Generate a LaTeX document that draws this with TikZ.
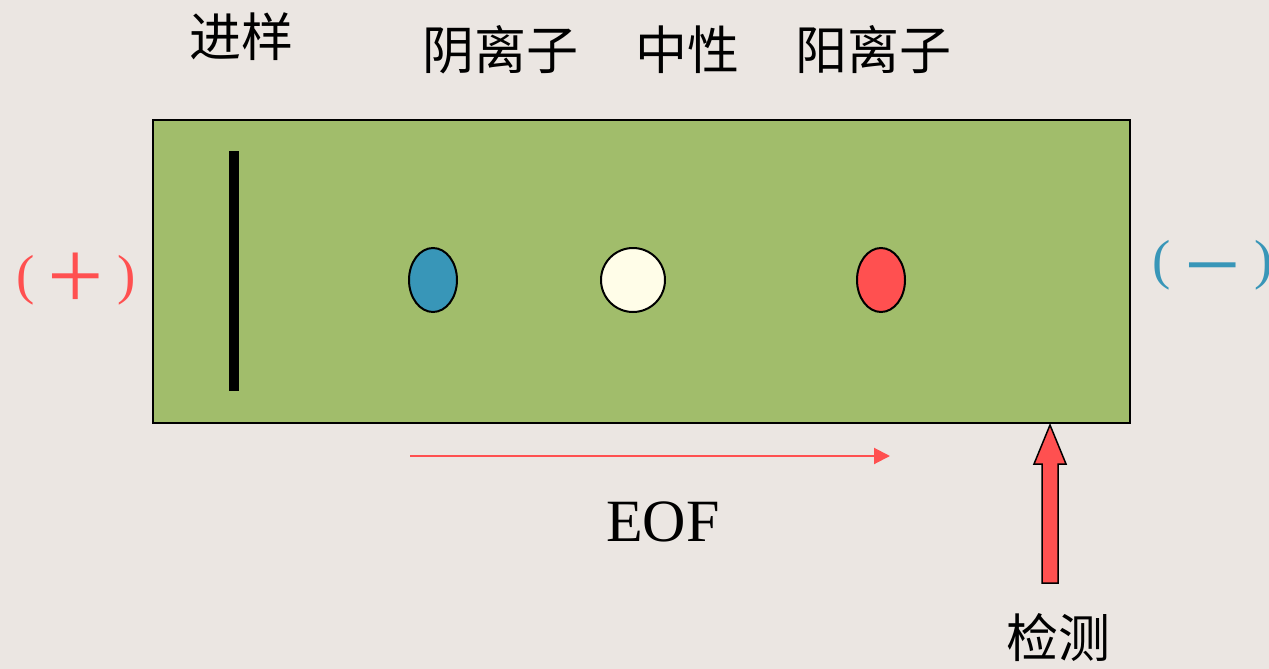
\documentclass[tikz,border=0pt]{standalone}
\usepackage{fontspec}
\usetikzlibrary{shapes.geometric,arrows.meta}
\setmainfont{Liberation Serif}
\newfontfamily\cjk{Noto Sans CJK SC}
\definecolor{bgc}{HTML}{EBE6E2}
\definecolor{gelc}{HTML}{A1BD6B}
\definecolor{bluec}{HTML}{3896B8}
\definecolor{redc}{HTML}{FF5050}
\definecolor{creamc}{HTML}{FFFDE8}
\tikzset{
  lbl/.style={inner sep=0pt, font=\cjk\fontsize{52}{52}\selectfont},
  dot/.style={draw=black, line width=2pt},
  paren/.style={inner sep=0pt, font=\fontsize{55}{55}\selectfont},
  sign/.style={inner sep=0pt, font=\fontsize{100}{100}\selectfont},
}
\begin{document}
\begin{tikzpicture}[x=1pt,y=-1pt]
\fill[bgc] (0,0) rectangle (1269,669);
\useasboundingbox (0,0) rectangle (1269,669);
\draw[fill=gelc, line width=1.5pt] (153,120) rectangle (1130,423);
\fill[black] (229,151) rectangle (239,391);
\node[dot, fill=bluec, ellipse, minimum width=48pt, minimum height=64pt, inner sep=0pt] (an) at (433,280) {};
\node[dot, fill=creamc, circle, minimum size=64pt, inner sep=0pt] (ne) at (633,280) {};
\node[dot, fill=redc, ellipse, minimum width=48pt, minimum height=64pt, inner sep=0pt] (ca) at (881,280) {};
\node[lbl] (inj) at (241,37) {进样};
\node[lbl] (tan) at (500,50) {阴离子};
\node[lbl] (tne) at (687,50) {中性};
\node[lbl] (tca) at (873,50) {阳离子};
\node[lbl] (det) at (1058,638) {检测};
\node[paren, text=redc] (pl) at (26,280) {(};
\node[sign, text=redc] (pp) at (76,281) {+};
\node[paren, text=redc] (pr) at (127,280) {)};
\node[paren, text=bluec] (nl) at (1162,265) {(};
\node[sign, text=bluec] (nm) at (1213,281) {−};
\node[paren, text=bluec] (nr) at (1264,265) {)};
\coordinate (e1) at (410,456);
\coordinate (e2) at (890,456);
\draw[redc, line width=2pt, -{Triangle[length=16pt,width=16pt]}] (e1) -- (e2);
\node[inner sep=0pt, font=\fontsize{60}{60}\selectfont] (eof) at (663,522) {EOF};
\draw[fill=redc, line width=1.5pt] (1042,583) -- (1058,583) -- (1058,464) -- (1066,464) -- (1050,425) -- (1034,464) -- (1042,464) -- cycle;
\end{tikzpicture}
\end{document}
